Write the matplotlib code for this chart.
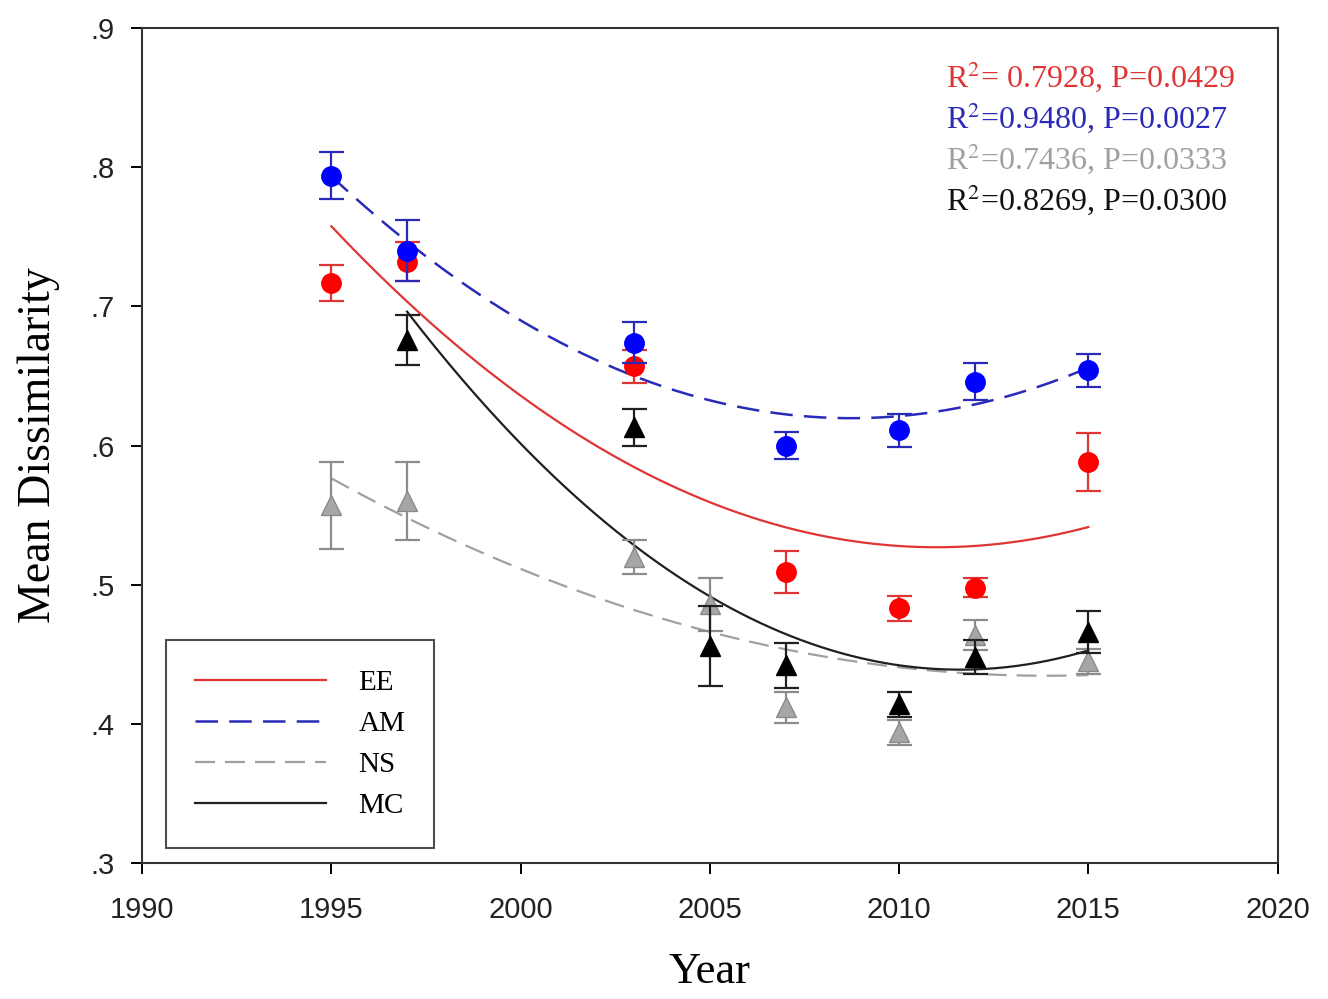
import numpy as np
import matplotlib.pyplot as plt

plt.rcParams['mathtext.fontset'] = 'stix'

# data
years = [1995, 1997, 2003, 2007, 2010, 2012, 2015]
ee = [0.717, 0.732, 0.657, 0.509, 0.483, 0.498, 0.588]
ee_err = [0.013, 0.014, 0.012, 0.015, 0.009, 0.007, 0.021]
am = [0.794, 0.740, 0.674, 0.600, 0.611, 0.646, 0.654]
am_err = [0.017, 0.022, 0.015, 0.010, 0.012, 0.013, 0.012]

years_t = [1995, 1997, 2003, 2005, 2007, 2010, 2012, 2015]
ns = [0.557, 0.560, 0.520, 0.486, 0.412, 0.394, 0.464, 0.445]
ns_err = [0.031, 0.028, 0.012, 0.019, 0.011, 0.009, 0.011, 0.009]

years_mc = [1997, 2003, 2005, 2007, 2010, 2012, 2015]
mc = [0.676, 0.613, 0.456, 0.442, 0.414, 0.448, 0.466]
mc_err = [0.018, 0.013, 0.029, 0.016, 0.009, 0.012, 0.015]

stats = ["R$^{2}$= 0.7928, P=0.0429", "R$^{2}$=0.9480, P=0.0027",
         "R$^{2}$=0.7436, P=0.0333", "R$^{2}$=0.8269, P=0.0300"]

c_red = '#ff0000'
c_blue = '#0000ff'
c_grey = '#a6a6a6'
c_black = '#000000'

fig = plt.figure(figsize=(13.28, 9.99), dpi=100)
ax = fig.add_axes([0.107, 0.136, 0.855, 0.836])

def fit_line(x, y, x0, x1):
    p = np.polyfit(x, y, 2)
    xx = np.linspace(x0, x1, 200)
    return xx, np.polyval(p, xx)

xx, yy = fit_line(years, ee, 1995, 2015)
ax.plot(xx, yy, color='#e03535', lw=1.6, label='EE', zorder=2)
xx, yy = fit_line(years, am, 1995, 2015)
ax.plot(xx, yy, color='#2a2ab8', lw=1.8, ls=(0, (9, 4.5)), label='AM', zorder=2)
xx, yy = fit_line(years_t, ns, 1995, 2015)
ax.plot(xx, yy, color='#a0a0a0', lw=1.6, ls=(0, (9, 4.5)), label='NS', zorder=2)
xx, yy = fit_line(years_mc, mc, 1997, 2015)
ax.plot(xx, yy, color='#202020', lw=1.6, label='MC', zorder=2)

ax.errorbar(years_t, ns, yerr=ns_err, fmt='^', ms=14, mfc=c_grey, mec='#8a8a8a',
            ecolor='#8c8c8c', elinewidth=1.6, capsize=9, capthick=1.6, zorder=3)
ax.errorbar(years_mc, mc, yerr=mc_err, fmt='^', ms=14, mfc=c_black, mec=c_black,
            ecolor='#202020', elinewidth=1.6, capsize=9, capthick=1.6, zorder=4)
ax.errorbar(years, ee, yerr=ee_err, fmt='o', ms=14, mfc=c_red, mec=c_red,
            ecolor='#e03535', elinewidth=1.6, capsize=9, capthick=1.6, zorder=5)
ax.errorbar(years, am, yerr=am_err, fmt='o', ms=14, mfc=c_blue, mec=c_blue,
            ecolor='#2a2ab8', elinewidth=1.6, capsize=9, capthick=1.6, zorder=6)

ax.set_xlim(1990, 2020)
ax.set_ylim(0.3, 0.9)
ax.set_xticks(range(1990, 2021, 5))
ax.set_yticks([0.3, 0.4, 0.5, 0.6, 0.7, 0.8, 0.9])
ax.set_yticklabels(['.3', '.4', '.5', '.6', '.7', '.8', '.9'])
ax.tick_params(direction='out', length=8, width=1.4, labelsize=21)
ax.tick_params(axis='x', pad=16)
ax.tick_params(axis='y', pad=12)
for lab in ax.get_xticklabels() + ax.get_yticklabels():
    lab.set_fontfamily('Liberation Sans')
    lab.set_color('#222222')
for s in ax.spines.values():
    s.set_linewidth(1.5)
    s.set_color('#333333')

ax.set_xlabel('Year', fontfamily='Liberation Serif', fontsize=32, labelpad=20)
ax.set_ylabel('Mean Dissimilarity', fontfamily='Liberation Serif', fontsize=33, labelpad=22)

cols = ['#e03535', '#2a2ab8', '#a0a0a0', '#111111']
for i, (t, c) in enumerate(zip(stats, cols)):
    ax.text(0.708, 0.942 - i * 0.049, t, transform=ax.transAxes, color=c,
            fontfamily='Liberation Serif', fontsize=23, va='center')

leg = ax.legend(loc='lower left', bbox_to_anchor=(0.021, 0.018),
                prop={'family': 'Liberation Serif', 'size': 21},
                frameon=True, fancybox=False, edgecolor='#222222',
                handlelength=4.5, handletextpad=1.1, labelspacing=0.5,
                borderpad=1.0, borderaxespad=0)
leg.get_frame().set_linewidth(1.5)

fig.savefig('out.png', dpi=100)
